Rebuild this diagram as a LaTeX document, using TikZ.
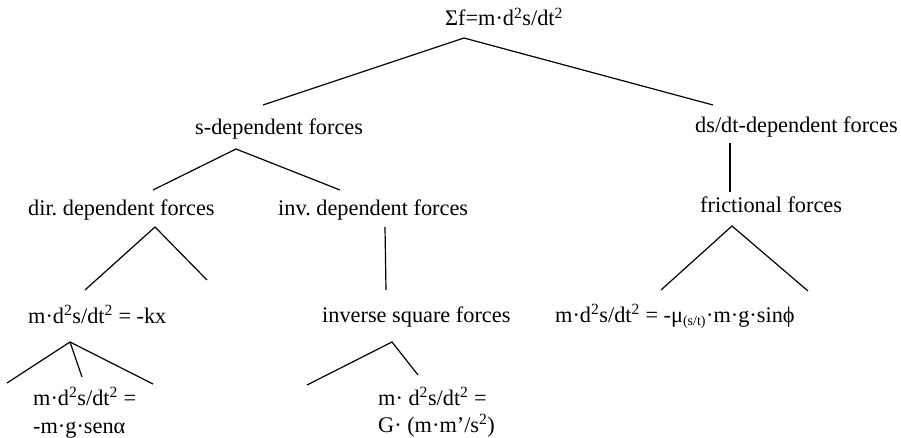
\documentclass[tikz,border=0pt]{standalone}
\usepackage{fontspec}
\setmainfont{Liberation Serif}
\newcommand{\sq}{\textsuperscript{2}}
\begin{document}
\begin{tikzpicture}[x=1pt,y=-1pt,
  lbl/.style={anchor=base west,inner sep=0pt,font=\fontsize{22.3}{26}\selectfont\frenchspacing},
  conn/.style={line width=1.2pt,black}]
\useasboundingbox (0,0) rectangle (901,438);
% labels
\node[lbl] (root) at (445,26) {Σf=m·d\sq s/dt\sq};
\node[lbl] (sdep) at (195,135) {s-dependent forces};
\node[lbl] (vdep) at (695,133) {ds/dt-dependent forces};
\node[lbl] (dir) at (28,215) {dir. dependent forces};
\node[lbl] (inv) at (278,215) {inv. dependent forces};
\node[lbl] (fric) at (700,213) {frictional forces};
\node[lbl] (kx) at (28,323) {m·d\sq s/dt\sq{} = -kx};
\node[lbl] (isq) at (322,322) {inverse square forces};
\node[lbl] (feq) at (555,322) {m·d\sq s/dt\sq{} = -μ\textsubscript{\fontsize{14}{16}\selectfont(s/t)}·m·g·sinϕ};
\node[lbl] (leafa) at (33,405) {m·d\sq s/dt\sq{} =};
\node[lbl] (leafb) at (33,433) {-m·g·senα};
\node[lbl] (leafc) at (378,405) {m· d\sq s/dt\sq{} =};
\node[lbl] (leafd) at (378,432) {G· (m·m’/s\sq)};
% connector points
\coordinate (rA) at (464,38);
\coordinate (rL) at (263,105);
\coordinate (rR) at (713,105);
\coordinate (sA) at (236,149);
\coordinate (sL) at (153,190);
\coordinate (sR) at (340,190);
\coordinate (dA) at (155,227);
\coordinate (dL) at (85,290);
\coordinate (dR) at (207,280);
\coordinate (iA) at (385,227);
\coordinate (iB) at (386,290);
\coordinate (vA) at (730,143);
\coordinate (vB) at (730,192);
\coordinate (fA) at (732,226);
\coordinate (fL) at (661,290);
\coordinate (fR) at (808,291);
\coordinate (kA) at (70,342);
\coordinate (kL) at (7,383);
\coordinate (kM) at (82,377);
\coordinate (kR) at (153,384);
\coordinate (qA) at (392,342);
\coordinate (qL) at (307,385);
\coordinate (qR) at (418,375);
% connectors
\draw[conn] (rL) -- (rA) -- (rR);
\draw[conn] (sL) -- (sA) -- (sR);
\draw[conn] (dL) -- (dA) -- (dR);
\draw[conn] (iA) -- (iB);
\draw[conn] (vA) -- (vB);
\draw[conn] (fL) -- (fA) -- (fR);
\draw[conn] (kL) -- (kA) -- (kR);
\draw[conn] (kA) -- (kM);
\draw[conn] (qL) -- (qA) -- (qR);
\end{tikzpicture}
\end{document}
